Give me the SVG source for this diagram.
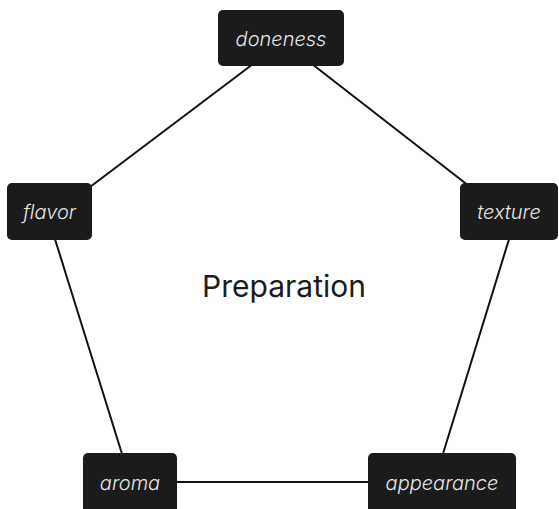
<svg xmlns="http://www.w3.org/2000/svg" width="559" height="509" viewBox="0 0 559 509">
  <style>
    .node rect { fill: #1b1b1b; }
    .node text { font-family: Inter, "Liberation Sans", sans-serif; font-style: italic; font-weight: 300; font-size: 20px; fill: #e6e6e6; text-anchor: middle; dominant-baseline: central; }
    .edge { stroke: #111; stroke-width: 2; fill: none; }
    .title { font-family: Inter, "Liberation Sans", sans-serif; font-size: 30px; fill: #1b1b1b; text-anchor: middle; }
  </style>
  <rect width="559" height="509" fill="#ffffff"/>
  <g id="connectors">
    <line class="edge" x1="253" y1="64" x2="86" y2="190"/>
    <line class="edge" x1="312" y1="64" x2="469" y2="186"/>
    <line class="edge" x1="54" y1="236" x2="123" y2="457"/>
    <line class="edge" x1="510" y1="236" x2="442" y2="457"/>
    <line class="edge" x1="170" y1="482" x2="375" y2="482"/>
  </g>
  <text class="title" x="284" y="297">Preparation</text>
  <g id="node-doneness" class="node">
    <rect x="218" y="10" width="126" height="56" rx="5"/>
    <text x="281" y="39">doneness</text>
  </g>
  <g id="node-flavor" class="node">
    <rect x="7" y="183" width="85" height="57" rx="5"/>
    <text x="49.5" y="212">flavor</text>
  </g>
  <g id="node-texture" class="node">
    <rect x="460" y="183" width="98" height="57" rx="5"/>
    <text x="509" y="212">texture</text>
  </g>
  <g id="node-aroma" class="node">
    <rect x="83" y="453" width="94" height="60" rx="5"/>
    <text x="130" y="483">aroma</text>
  </g>
  <g id="node-appearance" class="node">
    <rect x="368" y="453" width="148" height="60" rx="5"/>
    <text x="442" y="483">appearance</text>
  </g>
</svg>
